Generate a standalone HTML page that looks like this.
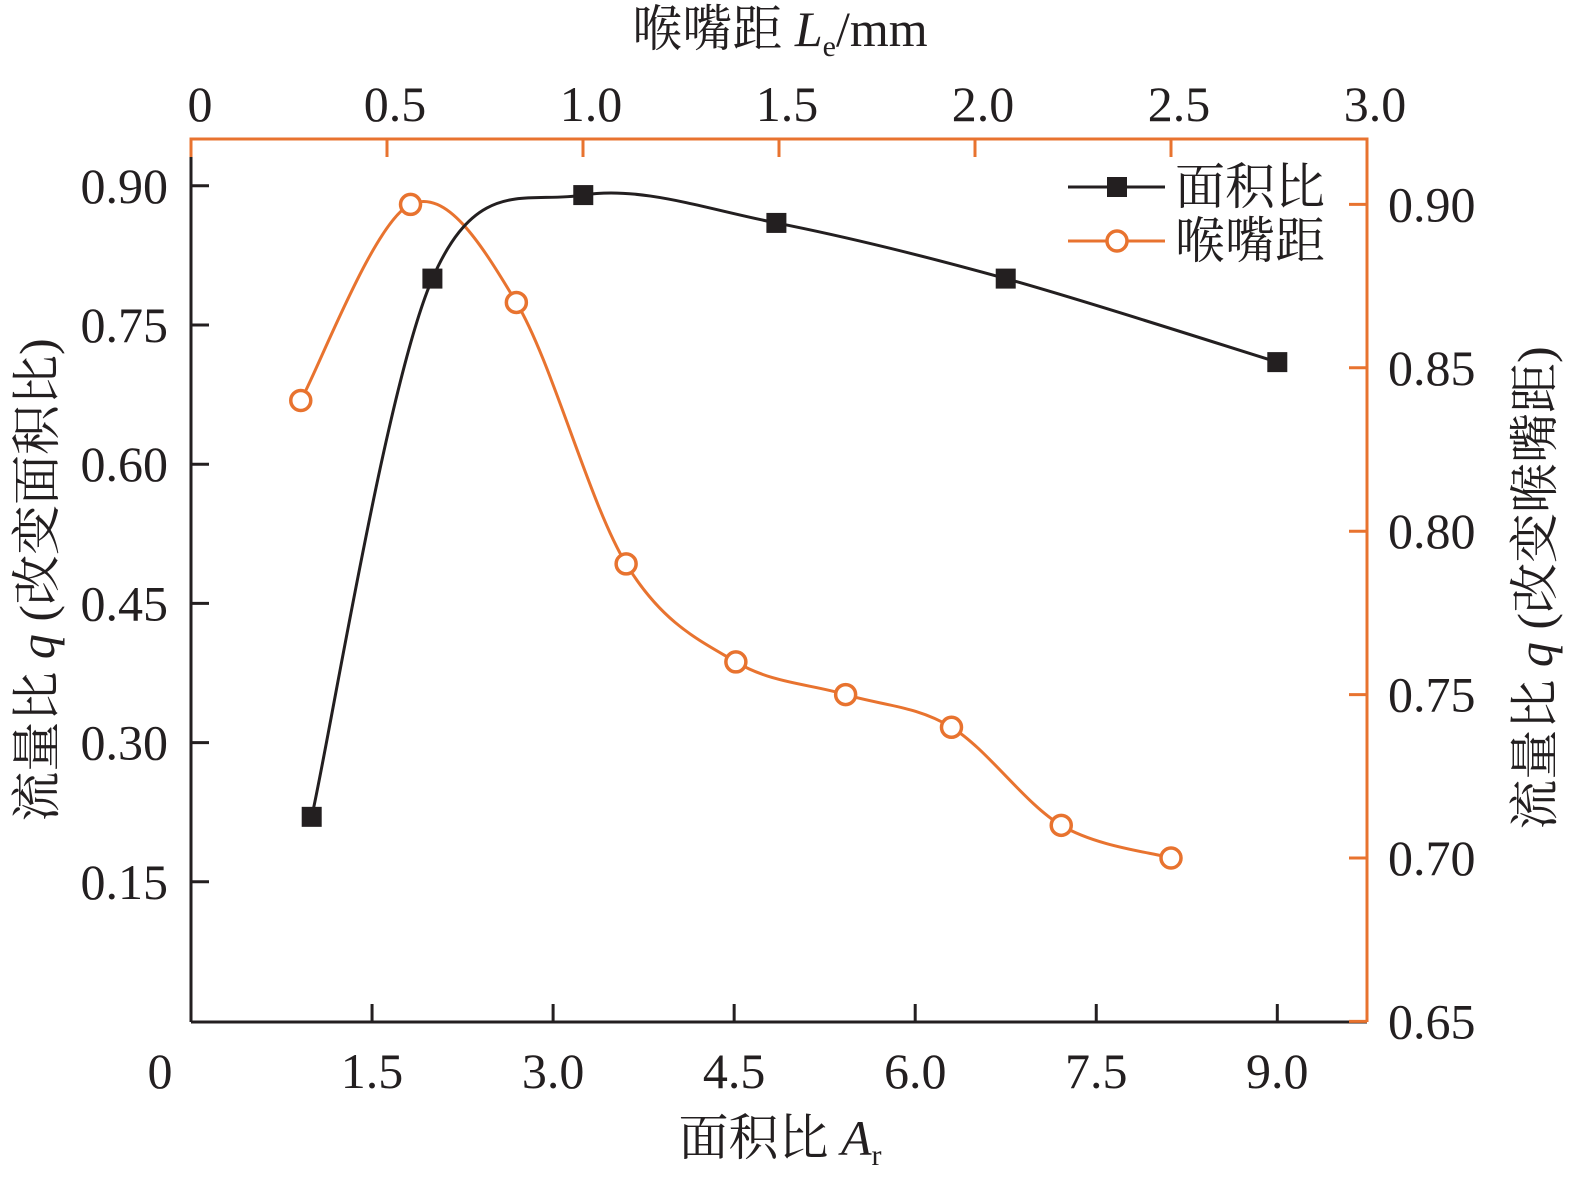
<!DOCTYPE html>
<html><head><meta charset="utf-8"><style>
html,body{margin:0;padding:0;background:#fff;overflow:hidden;width:1575px;height:1188px}
svg{display:block}
text{font-family:"Liberation Serif","Noto Serif CJK SC",serif;font-size:50px;fill:#231f20}
.cjk{font-family:"Liberation Serif","Noto Serif CJK SC",serif}
</style></head><body>
<svg width="1575" height="1188" viewBox="0 0 1575 1188">
<g id="axes"></g><g id="series"></g>
<g>
 <line x1="1068" y1="187" x2="1165" y2="187" stroke="#231f20" stroke-width="3"/>
 <rect x="1107" y="177" width="20" height="20" fill="#231f20"/>
 <text x="1175" y="204" class="cjk">面积比</text>
 <line x1="1068" y1="241" x2="1165" y2="241" stroke="#E8732F" stroke-width="3"/>
 <circle cx="1117" cy="241" r="10" fill="#fff" stroke="#E8732F" stroke-width="3.5"/>
 <text x="1175" y="258" class="cjk">喉嘴距</text>
</g>
<text x="780" y="1155" text-anchor="middle">面积比 <tspan font-style="italic">A</tspan><tspan font-size="30" dy="10">r</tspan></text>
<text x="780" y="46" text-anchor="middle">喉嘴距 <tspan font-style="italic">L</tspan><tspan font-size="30" dy="10">e</tspan><tspan dy="-10">/mm</tspan></text>
<text transform="translate(54,580) rotate(-90)" text-anchor="middle">流量比 <tspan font-style="italic">q</tspan> (改变面积比)</text>
<text transform="translate(1552,588) rotate(-90)" text-anchor="middle">流量比 <tspan font-style="italic">q</tspan> (改变喉嘴距)</text>
</svg>
<script>
const areaX=[1.0,2.0,3.25,4.85,6.75,9.0];
const areaQ=[0.22,0.80,0.89,0.86,0.80,0.71];
const distX=[0.28,0.56,0.83,1.11,1.39,1.67,1.94,2.22,2.50];
const distQ=[0.84,0.90,0.87,0.79,0.76,0.75,0.74,0.71,0.70];
const bottomTicks=[1.5,3.0,4.5,6.0,7.5,9.0];
const bottomLabels=["1.5","3.0","4.5","6.0","7.5","9.0"];
const leftTicks=[0.15,0.30,0.45,0.60,0.75,0.90];
const leftLabels=["0.15","0.30","0.45","0.60","0.75","0.90"];
const topTicks=[0.5,1.0,1.5,2.0,2.5,3.0];
const topLabels=["0.5","1.0","1.5","2.0","2.5","3.0"];
const rightTicks=[0.65,0.70,0.75,0.80,0.85,0.90];
const rightLabels=["0.65","0.70","0.75","0.80","0.85","0.90"];
const L=191,R=1367,T=139,B=1022,OR="#E8732F",BK="#231f20";
const xb=v=>L+v*120.7, yl=v=>1021-v*928, xt=v=>L+v*392, yr=v=>858-(v-0.70)*3268;
const NS="http://www.w3.org/2000/svg";
function mk(tag,attrs,parent){const e=document.createElementNS(NS,tag);for(const k in attrs)e.setAttribute(k,attrs[k]);parent.appendChild(e);return e;}
const ax=document.getElementById('axes'), se=document.getElementById('series');
let e;
e=mk('line',{x1:L,y1:B,x2:R,y2:B,stroke:BK,'stroke-width':3},ax);


e=mk('line',{x1:L,y1:157,x2:L,y2:B,stroke:BK,'stroke-width':3},ax);


e=mk('polyline',{points:`${L},157 ${L},${T} ${R},${T} ${R},${B}`,fill:'none',stroke:OR,'stroke-width':3},ax);


bottomTicks.forEach((v,i)=>{const x=xb(v);
 mk('line',{x1:x,y1:B,x2:x,y2:B-18,stroke:BK,'stroke-width':3},ax);
 e=mk('text',{x:x,y:1088,'text-anchor':'middle'},ax);e.textContent=bottomLabels[i];
 
 });
e=mk('text',{x:160,y:1088,'text-anchor':'middle'},ax);e.textContent='0';


leftTicks.forEach((v,i)=>{const y=yl(v);
 mk('line',{x1:L,y1:y,x2:L+18,y2:y,stroke:BK,'stroke-width':3},ax);
 e=mk('text',{x:168,y:y+17,'text-anchor':'end'},ax);e.textContent=leftLabels[i];
 
 });
topTicks.forEach((v,i)=>{const x=xt(v);
 mk('line',{x1:x,y1:T,x2:x,y2:T+18,stroke:OR,'stroke-width':3},ax);
 e=mk('text',{x:x+8,y:121,'text-anchor':'middle'},ax);e.textContent=topLabels[i];
 
 });
e=mk('text',{x:200,y:121,'text-anchor':'middle'},ax);e.textContent='0';


rightTicks.forEach((v,i)=>{const y=yr(v);
 mk('line',{x1:R,y1:y,x2:R-18,y2:y,stroke:OR,'stroke-width':3},ax);
 e=mk('text',{x:1388,y:y+17},ax);e.textContent=rightLabels[i];
 
 });
function spline(p){let d=`M${p[0][0]},${p[0][1]}`;
 for(let i=0;i<p.length-1;i++){const p0=p[i-1]||p[i],p1=p[i],p2=p[i+1],p3=p[i+2]||p2;
  d+=` C${p1[0]+(p2[0]-p0[0])/6},${p1[1]+(p2[1]-p0[1])/6} ${p2[0]-(p3[0]-p1[0])/6},${p2[1]-(p3[1]-p1[1])/6} ${p2[0]},${p2[1]}`;}
 return d;}
const pa=areaX.map((v,i)=>[xb(v),yl(areaQ[i])]);
const pd=distX.map((v,i)=>[xt(v),yr(distQ[i])]);
e=mk('path',{d:spline(pd),fill:'none',stroke:OR,'stroke-width':3},se);


e=mk('path',{d:spline(pa),fill:'none',stroke:BK,'stroke-width':3},se);


pa.forEach(p=>{e=mk('rect',{x:p[0]-10,y:p[1]-10,width:20,height:20,fill:BK},se);
 
 });
pd.forEach(p=>{e=mk('circle',{cx:p[0],cy:p[1],r:10,fill:'#fff',stroke:OR,'stroke-width':3.5},se);
 
 });
</script>
</body></html>
